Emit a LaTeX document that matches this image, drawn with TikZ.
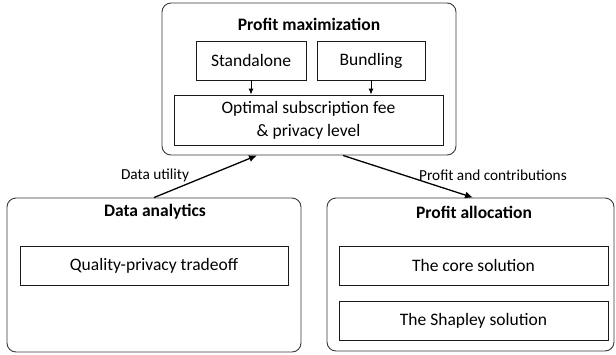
\documentclass[tikz,border=0pt]{standalone}
\usepackage{fontspec}
\setmainfont{Carlito}
\usepackage{tikz}
\usetikzlibrary{arrows.meta,positioning}
\definecolor{FrameGray}{HTML}{3A3A3A}
\definecolor{BoxBlack}{HTML}{1A1A1A}

\begin{document}
\begin{tikzpicture}[
    x=1pt, y=-1pt,
    font=\fontsize{17.5}{23}\selectfont,
    group/.style={draw=FrameGray, rounded corners=9pt, line width=0.9pt, inner sep=0pt},
    grouptitle/.style={font=\fontsize{17.5}{23}\selectfont\bfseries, inner sep=0pt},
    subbox/.style={draw=BoxBlack, line width=0.9pt, align=center, inner sep=0pt, minimum height=39pt},
    lbl/.style={font=\fontsize{15.3}{18}\selectfont, inner sep=0pt},
    arr/.style={-{Latex[length=8pt,width=7pt]}, line width=1.3pt, draw=black},
    smallarr/.style={-{Latex[length=6pt,width=5pt]}, line width=0.9pt, draw=black}
]
\useasboundingbox (0,0) rectangle (616,354);
% profit maximization
\node[group, minimum width=294pt, minimum height=152pt] (maxbox) at (309,79) {};
\node[grouptitle] (maxtitle) at (309,24) {Profit maximization};
\node[subbox, minimum width=110pt] (standalone) at (251,60.5) {Standalone};
\node[subbox, minimum width=108pt] (bundling) at (371,60.5) {Bundling};
\node[subbox, minimum width=269pt, minimum height=50pt] (optimal) at (308.5,120) {Optimal subscription fee\\\& privacy level};
\draw[smallarr] (standalone.south) -- (standalone.south |- optimal.north);
\draw[smallarr] (bundling.south) -- (bundling.south |- optimal.north);
% data analytics
\node[group, minimum width=294pt, minimum height=154pt] (analytics) at (154,275) {};
\node[grouptitle] (anatitle) at (155,212) {Data analytics};
\node[subbox, minimum width=268pt] (tradeoff) at (154,265.5) {Quality-privacy tradeoff};
% profit allocation
\node[group, minimum width=287pt, minimum height=153pt] (allocation) at (470.5,274.5) {};
\node[grouptitle] (alloctitle) at (474,212) {Profit allocation};
\node[subbox, minimum width=269pt] (core) at (473.5,265.5) {The core solution};
\node[subbox, minimum width=269pt] (shapley) at (473.5,320.5) {The Shapley solution};
% links between groups
\draw[arr] (analytics.north) -- ([xshift=-52pt]maxbox.south);
\node[lbl] (utillbl) at (155,175) {Data utility};
\draw[arr] ([xshift=34pt]maxbox.south) -- ([xshift=2.5pt]allocation.north);
\node[lbl] (profitlbl) at (493,175) {Profit and contributions};
\end{tikzpicture}
\end{document}
